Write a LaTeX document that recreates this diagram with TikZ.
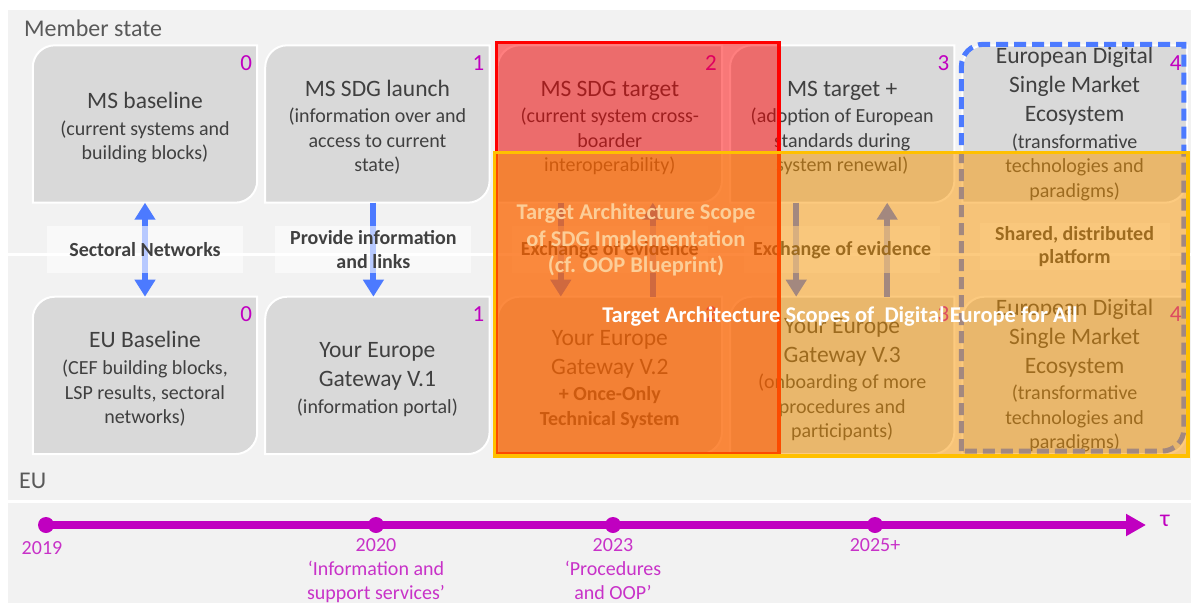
\documentclass[tikz,border=0pt]{standalone}
\usepackage{fontspec}
\setmainfont{Carlito}
\usepackage{xcolor}
\usetikzlibrary{arrows.meta,positioning,calc}

\definecolor{lanegray}{RGB}{242,242,242}
\definecolor{boxgray}{RGB}{217,217,217}
\definecolor{textgray}{RGB}{64,64,64}
\definecolor{lanetext}{RGB}{89,89,89}
\definecolor{numpurple}{RGB}{192,0,192}
\definecolor{tlpurple}{RGB}{192,0,192}
\definecolor{tltext}{RGB}{200,50,200}
\definecolor{arrblue}{RGB}{76,122,255}
\definecolor{scopered}{RGB}{255,0,0}
\definecolor{scopegold}{RGB}{255,192,0}
\definecolor{scopefill}{RGB}{250,150,0}
\definecolor{sdgtext}{RGB}{252,206,152}

\newcommand{\boxtitle}{\fontsize{23.5}{28}\selectfont}
\newcommand{\toplift}{\rule{0pt}{23pt}}
\newcommand{\diagpath}[2]{(#1 |- #2) -- ($(#1)+(0,22)$) arc[start angle=180,end angle=270,radius=22] -- (#2 |- #1) -- ($(#2)+(0,-22)$) arc[start angle=0,end angle=90,radius=22] -- cycle}

\pgfdeclarelayer{lanes}
\pgfdeclarelayer{background}
\pgfdeclarelayer{shade}
\pgfdeclarelayer{front}
\pgfsetlayers{lanes,background,main,shade,front}

\begin{document}
\begin{tikzpicture}[x=1pt, y=-1pt,
  box/.style={minimum width=224pt, minimum height=157pt, inner sep=0pt, align=center, text=textgray, font=\fontsize{20}{24.5}\selectfont},
  boxshape/.style={fill=boxgray, draw=white, line width=2pt},
  frame/.style={draw=arrblue, line width=5pt, dash pattern=on 12pt off 6pt},
  num/.style={anchor=base east, inner sep=0pt, text=numpurple, font=\fontsize{23}{23}\selectfont},
  lane/.style={anchor=base west, inner sep=0pt, text=lanetext, font=\fontsize{24}{28}\selectfont},
  lbl/.style={fill=white, fill opacity=0.6, text opacity=1, text=textgray, minimum width=196pt, minimum height=47pt, inner sep=0pt, align=center, font=\bfseries\fontsize{20}{23.5}\selectfont},
  arr/.style={-{Triangle[length=17pt, width=20pt]}, line width=6pt, arrblue},
  dbl/.style={{Triangle[length=17pt, width=20pt]}-{Triangle[length=17pt, width=20pt]}, line width=6pt, arrblue},
  redscope/.style={draw=scopered, line width=3.5pt, fill=scopered, fill opacity=0.5},
  goldscope/.style={draw=scopegold, line width=3.5pt, fill=scopefill, fill opacity=0.5},
  bigtxt/.style={align=center, inner sep=0pt, font=\bfseries\fontsize{22.5}{26.5}\selectfont},
  dot/.style={circle, fill=tlpurple, minimum size=16pt, inner sep=0pt},
  tline/.style={line width=8pt, tlpurple, -{Triangle[length=20pt, width=21pt]}},
  tlbl/.style={anchor=north, inner sep=0pt, text=tltext, align=center, font=\fontsize{20}{24}\selectfont}
]
\useasboundingbox (0,0) rectangle (1191,603);

\begin{pgfonlayer}{lanes}
\fill[lanegray] (8,10) rectangle (1191,252.5);
\fill[lanegray] (8,255.5) rectangle (1191,499.5);
\fill[lanegray] (8,503) rectangle (1191,603);
\end{pgfonlayer}
\node[lane] (mslane) at (24,36.5) {Member state};
\node[lane] (eulane) at (19,488) {EU};

\node[box] (msbase) at (145,124) {\toplift{\boxtitle MS baseline}\\[2.5pt](current systems and\\building blocks)};
\node[box, right=8pt of msbase] (mslaunch) {\toplift{\boxtitle MS SDG launch}\\[2pt](information over and\\access to current\\state)};
\node[box, right=8pt of mslaunch] (mstarget) {\toplift{\boxtitle MS SDG target}\\[2pt](current system cross-\\boarder\\interoperability)};
\node[box, right=8pt of mstarget] (msplus) {\toplift{\boxtitle MS target +}\\[2pt](adoption of European\\standards during\\system renewal)};
\node[box, right=8pt of msplus] (dsmtop) {{\boxtitle European Digital}\\[4.5pt]{\boxtitle Single Market}\\[4.5pt]{\boxtitle Ecosystem}\\[2pt](transformative\\technologies and\\paradigms)};

\node[box, below=94pt of msbase] (eubase) {\toplift{\boxtitle EU Baseline}\\[2.5pt](CEF building blocks,\\LSP results, sectoral\\networks)};
\node[box, right=8pt of eubase] (yeg1) {\toplift{\boxtitle Your Europe}\\[4.5pt]{\boxtitle Gateway V.1}\\[2pt](information portal)};
\node[box, right=8pt of yeg1] (yeg2) {\toplift{\boxtitle Your Europe}\\[4.5pt]{\boxtitle Gateway V.2}\\[2pt]\textbf{+ Once-Only}\\\textbf{Technical System}};
\node[box, right=8pt of yeg2] (yeg3) {\toplift{\boxtitle Your Europe}\\[4.5pt]{\boxtitle Gateway V.3}\\[2pt](onboarding of more\\procedures and\\participants)};
\node[box, right=8pt of yeg3] (dsmbot) {{\boxtitle European Digital}\\[4.5pt]{\boxtitle Single Market}\\[4.5pt]{\boxtitle Ecosystem}\\[2pt](transformative\\technologies and\\paradigms)};

\begin{pgfonlayer}{background}
\foreach \b in {msbase,mslaunch,mstarget,msplus,dsmtop,eubase,yeg1,yeg2,yeg3,dsmbot}
  \draw[boxshape] \diagpath{\b.north west}{\b.south east};
\end{pgfonlayer}

\foreach \b/\n in {msbase/0,mslaunch/1,mstarget/2,msplus/3,dsmtop/4,eubase/0,yeg1/1,yeg2/2,yeg3/3,dsmbot/4}
  \node[num] (num-\b) at ($(\b.north east)+(-5,25)$) {\n};

\coordinate (frtl) at ($(dsmtop.north west)+(-1,-1)$);
\coordinate (frbr) at ($(dsmbot.south east)+(-3,-3)$);
\draw[frame] \diagpath{frtl}{frbr};

\draw[dbl] (msbase) -- (eubase);
\draw[arr] ([xshift=-4pt]mslaunch.south) -- ([xshift=-4pt]yeg1.north);
\draw[arr] ([xshift=-49pt]mstarget.south) -- ([xshift=-49pt]yeg2.north);
\draw[arr] ([xshift=43pt]yeg2.north) -- ([xshift=43pt]mstarget.south);
\draw[arr] ([xshift=-46pt]msplus.south) -- ([xshift=-46pt]yeg3.north);
\draw[arr] ([xshift=45pt]yeg3.north) -- ([xshift=45pt]msplus.south);

\node[lbl] (sectoral) at ($(msbase.south)!0.5!(eubase.north)$) {Sectoral Networks};
\node[lbl] (provide) at ($(mslaunch.south)!0.5!(yeg1.north)+(-4,0)$) {Provide information\\and links};
\node[lbl] (evid2) at ($(mstarget.south)!0.5!(yeg2.north)$) {Exchange of evidence};
\node[lbl] (evid3) at ($(msplus.south)!0.5!(yeg3.north)$) {Exchange of evidence};
\node[lbl, minimum width=190pt] (shared) at ($(dsmtop.south)!0.5!(dsmbot.north)+(0,-3)$) {Shared, distributed\\platform};

\begin{pgfonlayer}{shade}
\draw[redscope] ($(mstarget.north west)+(-1,-3)$) rectangle ($(yeg2.south east)+(57,0)$);
\draw[goldscope] ($(mstarget.south west)+(-3,-50)$) rectangle ($(dsmbot.south east)+(1,2)$);
\end{pgfonlayer}

\begin{pgfonlayer}{front}
\node[bigtxt, text=sdgtext] (sdgscope) at (636,240) {Target Architecture Scope\\of SDG Implementation\\(cf. OOP Blueprint)};
\node[bigtxt, text=white] (defa) at (840,317) {Target Architecture Scopes of\ \ Digital Europe for All};
\end{pgfonlayer}

\node[dot] (t19) at (46,525) {};
\node[dot] (t20) at (376,525) {};
\node[dot] (t23) at (613,525) {};
\node[dot] (t25) at (875,525) {};
\coordinate (tend) at (1146,525);
\draw[tline] (t19.center) -- (tend);
\node[text=tlpurple, font=\fontsize{24}{24}\selectfont, inner sep=0pt] (tau) at (1165,521) {τ};

\node[tlbl] (l19) at ($(t19)+(-4,16)$) {2019};
\node[tlbl] (l20) at ($(t20)+(0,13)$) {2020\\‘Information and\\support services’};
\node[tlbl] (l23) at ($(t23)+(0,13)$) {2023\\‘Procedures\\and OOP’};
\node[tlbl] (l25) at ($(t25)+(0,13)$) {2025+};
\end{tikzpicture}
\end{document}
